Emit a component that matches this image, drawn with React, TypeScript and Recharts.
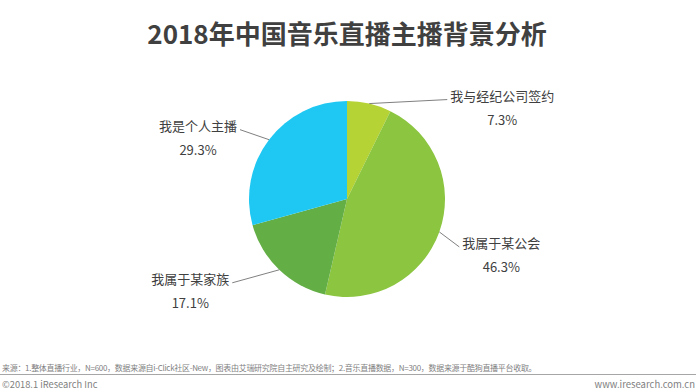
import React from 'react';
import { PieChart, Pie, Cell } from 'recharts';

const names = ['我与经纪公司签约', '我属于某公会', '我属于某家族', '我是个人主播'];
const values = [7.3, 46.3, 17.1, 29.3];
const colors = ['#b5d334', '#8cc540', '#64ae46', '#1fc8f2'];

const data = names.map((n, i) => ({ name: n, value: values[i] }));

const FONT = '"Noto Sans CJK SC", "Noto Sans", sans-serif';
const RAD = Math.PI / 180;

const labelLayout = [
  { dx: 78, dy: -4, anchor: 'start' },
  { dx: 20, dy: 15, anchor: 'start' },
  { dx: -47, dy: 13, anchor: 'end' },
  { dx: -29, dy: -10, anchor: 'end' },
];

const renderLabel = (props: any) => {
  const { cx, cy, midAngle, outerRadius, index, name, value } = props;
  const sx = cx + outerRadius * Math.cos(-midAngle * RAD);
  const sy = cy + outerRadius * Math.sin(-midAngle * RAD);
  const L = labelLayout[index];
  const ex = sx + L.dx;
  const ey = sy + L.dy;
  const fs = 13;
  const w = String(name).length * fs;
  const tx = L.anchor === 'start' ? ex + 3 : ex - 3;
  const ty = ey - 4;
  const center = L.anchor === 'start' ? tx + w / 2 : tx - w / 2;
  return (
    <g>
      <line x1={sx} y1={sy} x2={ex} y2={ey} stroke="#808080" strokeWidth={1} />
      <text x={tx} y={ty} textAnchor={L.anchor} dominantBaseline="central" fill="#404040" fontSize={fs} fontFamily={FONT}>
        {name}
      </text>
      <text x={center} y={ty + 24} textAnchor="middle" dominantBaseline="central" fill="#404040" fontSize={fs} fontFamily={FONT}>
        {`${Number(value).toFixed(1)}%`}
      </text>
    </g>
  );
};

export default function App() {
  return (
    <div style={{ position: 'absolute', left: 0, top: 0, width: 700, height: 392, background: '#fff', overflow: 'hidden' }}>
      <div style={{ position: 'absolute', left: 0, top: 13, width: 694, textAlign: 'center', fontFamily: FONT, fontWeight: 'bold', fontSize: 26, lineHeight: '40px', color: '#404040' }}>
        2018年中国音乐直播主播背景分析
      </div>
      <div style={{ position: 'absolute', left: 0, top: 0 }}>
        <PieChart width={700} height={392} margin={{ top: 0, right: 0, bottom: 0, left: 0 }}>
          <Pie
            data={data}
            dataKey="value"
            nameKey="name"
            cx={347}
            cy={199}
            outerRadius={98}
            startAngle={90}
            endAngle={-270}
            stroke="none"
            isAnimationActive={false}
            labelLine={false}
            label={renderLabel}
          >
            {data.map((d, i) => (
              <Cell key={d.name} fill={colors[i]} />
            ))}
          </Pie>
        </PieChart>
      </div>
      <div style={{ position: 'absolute', left: 2, top: 362, fontFamily: FONT, fontSize: 8, lineHeight: '12px', color: '#7f7f7f', whiteSpace: 'nowrap', letterSpacing: -0.3 }}>
        来源：1.整体直播行业，N=600，数据来源自i-Click社区-New，图表由艾瑞研究院自主研究及绘制；2.音乐直播数据，N=300，数据来源于酷狗直播平台收取。
      </div>
      <div style={{ position: 'absolute', left: 0, top: 374, width: 696, height: 1, background: '#a6a6a6' }} />
      <div style={{ position: 'absolute', left: 2, top: 377, fontFamily: FONT, fontSize: 9.3, lineHeight: '14px', color: '#7f7f7f' }}>
        ©2018.1 iResearch Inc
      </div>
      <div style={{ position: 'absolute', right: 5, top: 377, fontFamily: FONT, fontSize: 9.5, lineHeight: '14px', color: '#7f7f7f' }}>
        www.iresearch.com.cn
      </div>
    </div>
  );
}
